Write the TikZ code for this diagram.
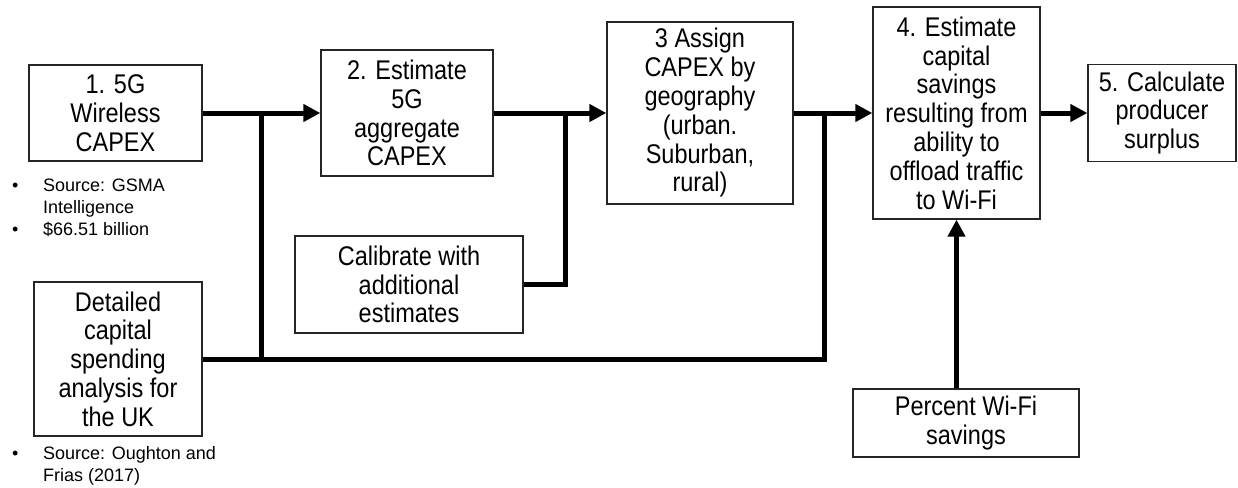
\documentclass[tikz,border=0pt]{standalone}
\usepackage{fontspec}
\setmainfont{Liberation Sans}
\newfontfamily\boxfont[FakeStretch=0.87]{Liberation Sans}
\usetikzlibrary{arrows.meta}
\begin{document}
\begin{tikzpicture}[x=1pt,y=-1pt,
  box/.style={draw=black!85,line width=1.3pt,fill=white,align=center,inner sep=0pt,
    font=\boxfont\fontsize{27}{28.8}\selectfont},
  note/.style={align=left,inner sep=0pt,anchor=base west,
    font=\fontsize{18}{22}\selectfont},
  flow/.style={line width=5pt,line join=miter,draw=black},
  tip/.style={-{Triangle[length=17pt,width=17pt]}}]
\useasboundingbox (0,0) rectangle (1238,487);

% process boxes
\node[box,minimum width=173pt,minimum height=96pt] (b1) at (115.5,113) {1. 5G\\Wireless\\CAPEX};
\node[box,minimum width=172pt,minimum height=126pt] (b2) at (407,113) {2. Estimate\\5G\\aggregate\\CAPEX};
\node[box,minimum width=228pt,minimum height=97pt] (cal) at (409,284.5) {Calibrate with\\additional\\estimates};
\node[box,minimum width=186pt,minimum height=182pt] (b3) at (700,113) {3 Assign\\CAPEX by\\geography\\(urban.\\Suburban,\\rural)};
\node[box,minimum width=167pt,minimum height=212pt] (b4) at (956.5,113) {4. Estimate\\capital\\savings\\resulting from\\ability to\\offload traffic\\to Wi-Fi};
\node[box,minimum width=148pt,minimum height=97pt] (b5) at (1162,113) {5. Calculate\\producer\\surplus};
\node[box,minimum width=168pt,minimum height=154pt] (det) at (118,359) {Detailed\\capital\\spending\\analysis for\\the UK};
\node[box,minimum width=226pt,minimum height=68pt] (pct) at (966,423) {Percent Wi-Fi\\savings};

% source notes (anchored at the baseline of their last line)
\node[note] (n1) at (12,235.5) {\makebox[31pt][l]{\textbullet}Source: GSMA\\\hspace*{31pt}Intelligence\\\makebox[31pt][l]{\textbullet}\$66.51 billion};
\node[note] (n2) at (12,481) {\makebox[31pt][l]{\textbullet}Source: Oughton and\\\hspace*{31pt}Frias (2017)};

% junction points on the main flow line
\coordinate (j1) at (261,113);
\coordinate (j2) at (565,113);
\coordinate (j3) at (824,113);

% connectors
\draw[flow,tip] (b1.east) -- (b2.west);
\draw[flow,tip] (b2.east) -- (b3.west);
\draw[flow,tip] (b3.east) -- (b4.west);
\draw[flow,tip] (b4.east) -- (b5.west);
\draw[flow,tip] (pct.north -| b4.south) -- (b4.south);
\draw[flow] (cal.east) -| (j2);
\draw[flow] (det.east) -| (j3);
\draw[flow] (j1 |- det.east) -- (j1);
\end{tikzpicture}
\end{document}
